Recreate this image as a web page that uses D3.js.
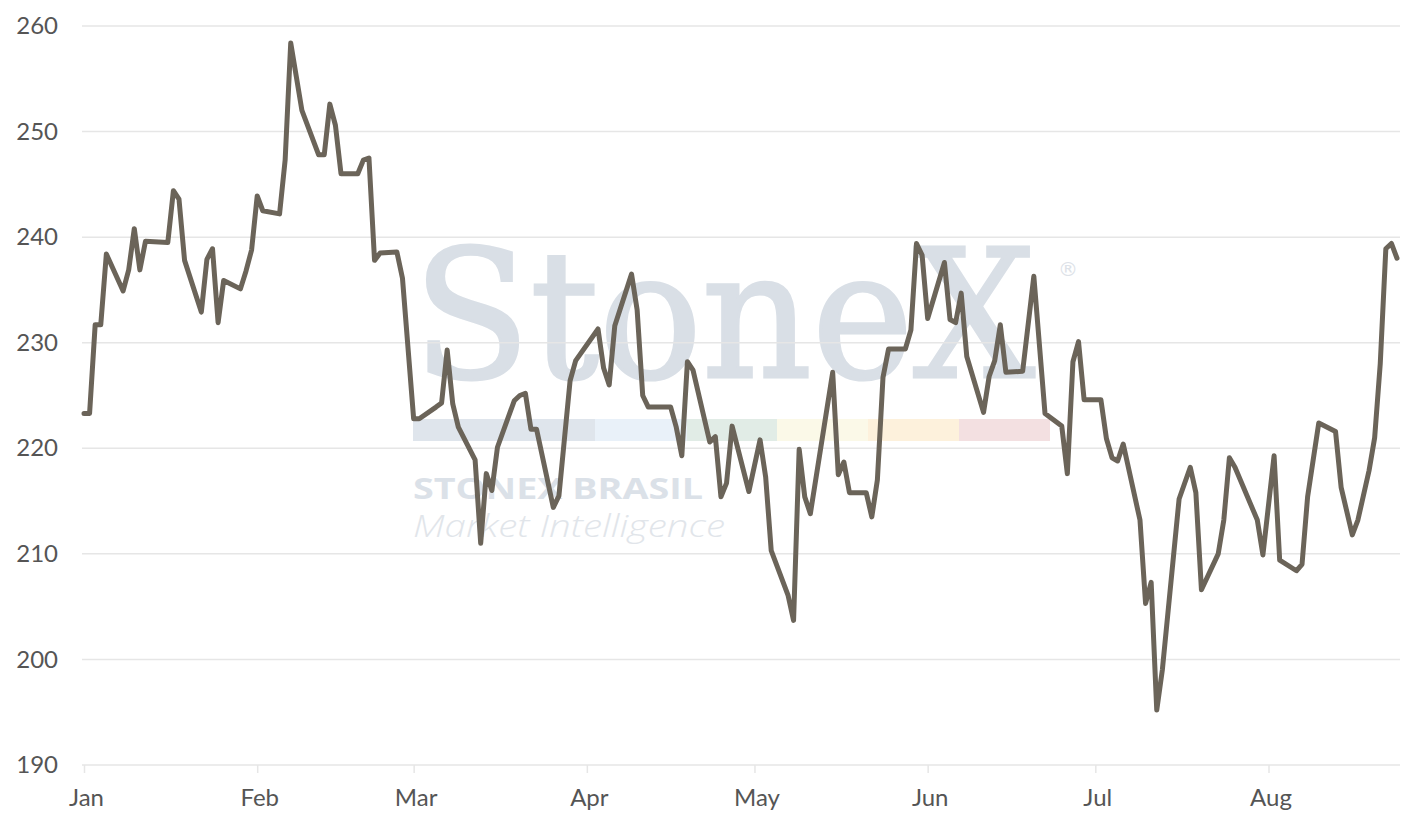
<!DOCTYPE html>
<html>
<head>
<meta charset="utf-8">
<script src="https://cdn.jsdelivr.net/npm/d3@7"></script>
<style>
  body { margin: 0; background: #fff; }
</style>
</head>
<body>
<div id="chart"></div>
<script>
// price series
var dates = [
  "2023-01-01","2023-01-02","2023-01-03","2023-01-04","2023-01-05","2023-01-08","2023-01-09","2023-01-10",
  "2023-01-11","2023-01-12","2023-01-16","2023-01-17","2023-01-18","2023-01-19","2023-01-22","2023-01-23",
  "2023-01-24","2023-01-25","2023-01-26","2023-01-29","2023-01-30","2023-01-31","2023-02-01","2023-02-02",
  "2023-02-05","2023-02-06","2023-02-07","2023-02-08","2023-02-09","2023-02-12","2023-02-13","2023-02-14",
  "2023-02-15","2023-02-16","2023-02-19","2023-02-20","2023-02-21","2023-02-22","2023-02-23","2023-02-26",
  "2023-02-27","2023-03-01","2023-03-02","2023-03-05","2023-03-06","2023-03-07","2023-03-08","2023-03-09",
  "2023-03-12","2023-03-13","2023-03-14","2023-03-15","2023-03-16","2023-03-19","2023-03-20","2023-03-21",
  "2023-03-22","2023-03-23","2023-03-26","2023-03-27","2023-03-29","2023-03-30","2023-04-03","2023-04-04",
  "2023-04-05","2023-04-06","2023-04-09","2023-04-10","2023-04-11","2023-04-12","2023-04-16","2023-04-17",
  "2023-04-18","2023-04-19","2023-04-20","2023-04-23","2023-04-24","2023-04-25","2023-04-26","2023-04-27",
  "2023-04-30","2023-05-02","2023-05-03","2023-05-04","2023-05-07","2023-05-08","2023-05-09","2023-05-10",
  "2023-05-11","2023-05-15","2023-05-16","2023-05-17","2023-05-18","2023-05-21","2023-05-22","2023-05-23",
  "2023-05-24","2023-05-25","2023-05-28","2023-05-29","2023-05-30","2023-05-31","2023-06-01","2023-06-04",
  "2023-06-05","2023-06-06","2023-06-07","2023-06-08","2023-06-11","2023-06-12","2023-06-13","2023-06-14",
  "2023-06-15","2023-06-18","2023-06-20","2023-06-22","2023-06-25","2023-06-26","2023-06-27","2023-06-28",
  "2023-06-29","2023-07-02","2023-07-03","2023-07-04","2023-07-05","2023-07-06","2023-07-09","2023-07-10",
  "2023-07-11","2023-07-12","2023-07-13","2023-07-16","2023-07-18","2023-07-19","2023-07-20","2023-07-23",
  "2023-07-24","2023-07-25","2023-07-26","2023-07-30","2023-07-31","2023-08-02","2023-08-03","2023-08-06",
  "2023-08-07","2023-08-08","2023-08-10","2023-08-13","2023-08-14","2023-08-16","2023-08-17","2023-08-19",
  "2023-08-20","2023-08-21","2023-08-22","2023-08-23","2023-08-24"
];
var values = [
  223.3,223.3,231.7,231.7,238.4,234.9,236.9,240.8,
  236.9,239.6,239.5,244.4,243.6,237.8,232.9,237.9,
  238.9,231.9,235.9,235.1,236.8,238.8,243.9,242.5,
  242.2,247.3,258.4,255.2,252.0,247.8,247.8,252.6,
  250.6,246.0,246.0,247.3,247.5,237.8,238.5,238.6,
  236.1,222.8,222.8,223.9,224.3,229.3,224.2,222.0,
  218.9,211.0,217.6,216.0,220.1,224.5,225.0,225.2,
  221.8,221.8,214.4,215.5,226.4,228.3,231.3,227.6,
  226.0,231.6,236.5,233.1,225.0,223.9,223.9,222.0,
  219.3,228.2,227.4,220.6,221.1,215.4,216.7,222.1,
  215.9,220.8,217.3,210.3,206.1,203.7,219.9,215.4,
  213.8,227.2,217.5,218.7,215.8,215.8,213.5,217.0,
  226.7,229.4,229.4,231.2,239.4,238.3,232.3,237.6,
  232.2,231.9,234.7,228.7,223.4,226.8,228.3,231.7,
  227.2,227.3,236.3,223.3,222.1,217.6,228.2,230.1,
  224.6,224.6,220.9,219.1,218.8,220.4,213.2,205.3,
  207.3,195.2,199.0,215.2,218.2,215.8,206.6,210.0,
  213.2,219.1,218.2,213.2,209.9,219.3,209.4,208.4,
  209.0,215.4,222.4,221.6,216.3,211.8,213.2,217.9,
  221.0,228.0,238.9,239.4,238.0
];
var yTicks = [190, 200, 210, 220, 230, 240, 250, 260];
var monthTicks = ["2023-01-01","2023-02-01","2023-03-01","2023-04-01","2023-05-01","2023-06-01","2023-07-01","2023-08-01"];
var monthLabels = ["Jan","Feb","Mar","Apr","May","Jun","Jul","Aug"];

var parse = d3.timeParse("%Y-%m-%d");
var points = dates.map(function (d, i) { return { date: parse(d), value: values[i] }; });

var svg = d3.select("#chart").append("svg")
    .attr("width", 1424)
    .attr("height", 827);

var x = d3.scaleTime()
    .domain([parse("2023-01-01"), parse("2023-08-24")])
    .range([84, 1397]);
var y = d3.scaleLinear()
    .domain([190, 260])
    .range([765, 26]);

// watermark
var wm = svg.append("g");
var bandColors = ["#dfe5ec", "#e9f1f9", "#e1ece6", "#fbf9e8", "#fdf1dc", "#f3e0e1"];
var bandEdges = [413, 595, 687, 777, 868, 959, 1050];
wm.selectAll("rect").data(bandColors).enter().append("rect")
    .attr("x", function (d, i) { return bandEdges[i]; })
    .attr("y", 419)
    .attr("width", function (d, i) { return bandEdges[i + 1] - bandEdges[i]; })
    .attr("height", 22)
    .attr("fill", function (d) { return d; });
wm.append("text")
    .attr("x", 413).attr("y", 377)
    .attr("textLength", 622).attr("lengthAdjust", "spacingAndGlyphs")
    .attr("font-family", "DejaVu Serif").attr("font-size", 178)
    .attr("fill", "#d9dfe6")
    .attr("stroke", "#d9dfe6").attr("stroke-width", 3)
    .text("StoneX");
wm.append("text")
    .attr("x", 1068).attr("y", 276).attr("text-anchor", "middle")
    .attr("font-family", "DejaVu Sans").attr("font-size", 20)
    .attr("fill", "#dde2e8")
    .text("\u00ae");
wm.append("text")
    .attr("x", 413).attr("y", 499)
    .attr("textLength", 290).attr("lengthAdjust", "spacingAndGlyphs")
    .attr("font-family", "Open Sans").attr("font-weight", "bold").attr("font-size", 29)
    .attr("fill", "#dbe1e8")
    .text("STONEX BRASIL");
wm.append("text")
    .attr("x", 413).attr("y", 537)
    .attr("textLength", 312).attr("lengthAdjust", "spacingAndGlyphs")
    .attr("font-family", "Open Sans").attr("font-weight", 300).attr("font-style", "italic").attr("font-size", 31)
    .attr("fill", "#e1e5ea")
    .text("Market Intelligence");

// gridlines
svg.append("g").selectAll("line").data(yTicks).enter().append("line")
    .attr("x1", 82).attr("x2", 1400)
    .attr("y1", function (d) { return y(d); })
    .attr("y2", function (d) { return y(d); })
    .attr("stroke", "#e6e6e6")
    .attr("stroke-width", 1.5);

// x axis
var xAxis = svg.append("g")
    .attr("transform", "translate(0,765)")
    .call(d3.axisBottom(x)
        .tickValues(monthTicks.map(parse))
        .tickFormat(function (d, i) { return monthLabels[i]; })
        .tickSize(8)
        .tickPadding(16));
xAxis.select(".domain").remove();
xAxis.selectAll(".tick line").attr("stroke", "#e6e6e6").attr("stroke-width", 1.5);
xAxis.selectAll(".tick text")
    .attr("font-family", "Lato").attr("font-size", 24).attr("fill", "#555")
    .attr("dx", 2);

// y axis
var yAxis = svg.append("g")
    .attr("transform", "translate(58,0)")
    .call(d3.axisLeft(y).tickValues(yTicks).tickSize(0).tickPadding(0));
yAxis.select(".domain").remove();
yAxis.selectAll(".tick text")
    .attr("font-family", "Lato").attr("font-size", 24).attr("fill", "#555");

// the series
var line = d3.line()
    .x(function (d) { return x(d.date); })
    .y(function (d) { return y(d.value); });
svg.append("path")
    .datum(points)
    .attr("d", line)
    .attr("fill", "none")
    .attr("stroke", "#6b6459")
    .attr("stroke-width", 5)
    .attr("stroke-linejoin", "round")
    .attr("stroke-linecap", "round");
</script>
</body>
</html>
